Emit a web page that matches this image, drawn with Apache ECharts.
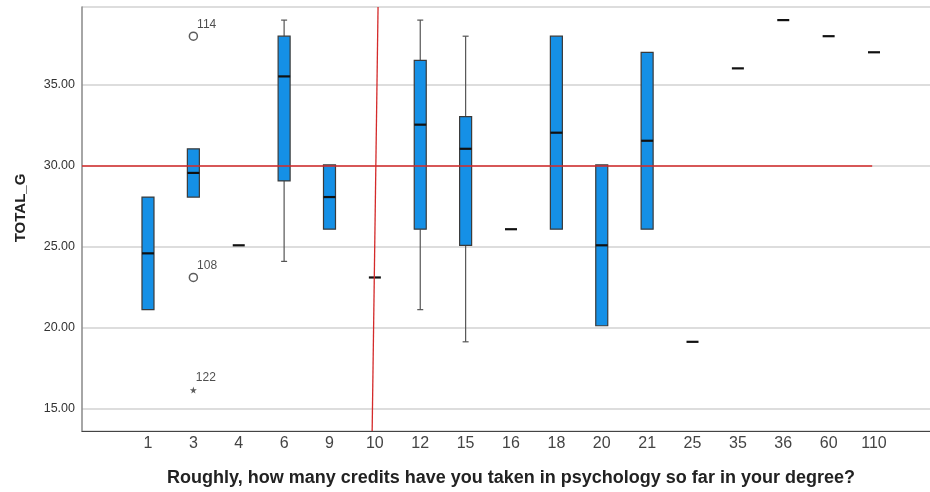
<!DOCTYPE html>
<html><head><meta charset="utf-8">
<script src="https://cdn.jsdelivr.net/npm/echarts@6/dist/echarts.min.js"></script>
<style>html,body{margin:0;padding:0;background:#fff}#c{width:930px;height:492px}</style>
</head><body><div id="c"></div>
<script>
// ---- data ----
const categories = ['1','3','4','6','9','10','12','15','16','18','20','21','25','35','36','60','110'];
const boxMin    = [21, 28,   25, 24,   26, 23, 21,   19, 26, 26, 20, 26,   19, 36, 39, 38, 37];
const boxQ1     = [21, 28,   25, 29,   26, 23, 26,   25, 26, 26, 20, 26,   19, 36, 39, 38, 37];
const boxMedian = [24.5, 29.5, 25, 35.5, 28, 23, 32.5, 31, 26, 32, 25, 31.5, 19, 36, 39, 38, 37];
const boxQ3     = [28, 31,   25, 38,   30, 23, 36.5, 33, 26, 38, 30, 37,   19, 36, 39, 38, 37];
const boxMax    = [28, 31,   25, 39,   30, 23, 39,   38, 26, 38, 30, 37,   19, 36, 39, 38, 37];
const outlierCategory = ['3', '3'];
const outlierValue = [38, 23];
const outlierLabel = ['114', '108'];
const extremeCategory = ['3'];
const extremeValue = [16];
const extremeLabel = ['122'];
const yTickValues = [15, 20, 25, 30, 35];
const refLineValue = 30;      // horizontal reference line (TOTAL_G)
const refLineCategory = '10'; // vertical reference line
const yName = 'TOTAL_G';
const xName = 'Roughly, how many credits have you taken in psychology so far in your degree?';

// ---- layout ----
const Y_MIN = 13.642, Y_MAX = 39.815;
const FONT = '"Liberation Sans", Arial, sans-serif';
const n = categories.length;
const refIdx = categories.indexOf(refLineCategory);
// outer value axis in "category index" units (index i sits at i)
const X0_MIN = -1.4545, X0_MAX = n + 0.234;

const boxData = categories.map((c, i) => [i, boxMin[i], boxQ1[i], boxMedian[i], boxQ3[i], boxMax[i]]);
const outData = outlierCategory.map((c, k) => [categories.indexOf(c), outlierValue[k], outlierLabel[k]]);
const extData = extremeCategory.map((c, k) => [categories.indexOf(c), extremeValue[k], extremeLabel[k]]);

function renderBox(params, api) {
  const i = api.value(0);
  const mn = api.value(1), q1 = api.value(2), md = api.value(3), q3 = api.value(4), mx = api.value(5);
  const bw = 12, cw = 6;
  const pMin = api.coord([i, mn]), pQ1 = api.coord([i, q1]), pMd = api.coord([i, md]),
        pQ3 = api.coord([i, q3]), pMax = api.coord([i, mx]);
  const x = pMd[0];
  const ch = [];
  const wStyle = { stroke: '#555', lineWidth: 1.2 };
  if (mx > q3) {
    ch.push({ type: 'line', shape: { x1: x, y1: pQ3[1], x2: x, y2: pMax[1] }, style: wStyle });
    ch.push({ type: 'line', shape: { x1: x - cw / 2, y1: pMax[1], x2: x + cw / 2, y2: pMax[1] }, style: wStyle });
  }
  if (mn < q1) {
    ch.push({ type: 'line', shape: { x1: x, y1: pQ1[1], x2: x, y2: pMin[1] }, style: wStyle });
    ch.push({ type: 'line', shape: { x1: x - cw / 2, y1: pMin[1], x2: x + cw / 2, y2: pMin[1] }, style: wStyle });
  }
  if (q3 > q1) {
    ch.push({ type: 'rect', shape: { x: x - bw / 2, y: pQ3[1], width: bw, height: pQ1[1] - pQ3[1] },
      style: { fill: '#1590E6', stroke: '#3a3a3a', lineWidth: 1.2 } });
  }
  ch.push({ type: 'line', shape: { x1: x - bw / 2, y1: pMd[1], x2: x + bw / 2, y2: pMd[1] },
    style: { stroke: '#111', lineWidth: 2.2 } });
  return { type: 'group', children: ch };
}

const chart = echarts.init(document.getElementById('c'), null, { renderer: 'canvas' });
chart.setOption({
  animation: false,
  backgroundColor: '#fff',
  textStyle: { fontFamily: FONT },
  grid: [
    { left: 82, right: 0, top: 7, bottom: 61 },
    { left: 125.3, right: 33.3, top: 7, bottom: 61 }
  ],
  xAxis: [
    { gridIndex: 0, type: 'value', min: X0_MIN, max: X0_MAX,
      axisLine: { show: true, onZero: false, lineStyle: { color: '#444', width: 1.2 } },
      axisTick: { show: false }, axisLabel: { show: false }, splitLine: { show: false } },
    { gridIndex: 1, type: 'category', data: categories, boundaryGap: true,
      axisLine: { show: false }, axisTick: { show: false },
      axisLabel: { fontSize: 16, color: '#444', margin: 8, fontFamily: FONT },
      name: xName, nameLocation: 'middle', nameGap: 41,
      nameTextStyle: { fontSize: 18, fontWeight: 'bold', color: '#222', fontFamily: FONT } }
  ],
  yAxis: [
    { gridIndex: 0, type: 'value', min: Y_MIN, max: Y_MAX,
      axisLine: { show: true, onZero: false, lineStyle: { color: '#888', width: 1.5 } },
      axisTick: { show: false },
      axisLabel: { fontSize: 12.5, color: '#333', margin: 7, fontFamily: FONT,
        formatter: v => yTickValues.some(t => Math.abs(t - v) < 1e-6) ? v.toFixed(2) : '' },
      splitLine: { show: true, lineStyle: { color: '#d2d2d2', width: 1.5 } },
      name: yName, nameLocation: 'middle', nameGap: 54,
      nameTextStyle: { fontSize: 15, fontWeight: 'bold', color: '#222', fontFamily: FONT, padding: [0, 0, 0, 22] } },
    { gridIndex: 1, type: 'value', min: Y_MIN, max: Y_MAX, show: false,
      axisLine: { show: false, onZero: false }, axisTick: { show: false },
      axisLabel: { show: false }, splitLine: { show: false } }
  ],
  series: [
    { type: 'custom', xAxisIndex: 1, yAxisIndex: 1, renderItem: renderBox, data: boxData, z: 3,
      encode: { x: 0, y: [1, 2, 3, 4, 5] } },
    { type: 'line', xAxisIndex: 0, yAxisIndex: 0, symbol: 'none', z: 4,
      lineStyle: { color: '#d42a2a', width: 1.3 },
      data: [[X0_MIN, refLineValue], [15.96, refLineValue]] },
    { type: 'line', xAxisIndex: 0, yAxisIndex: 0, symbol: 'none', z: 4,
      lineStyle: { color: '#d42a2a', width: 1.3 },
      data: [[refIdx + 0.07, Y_MAX], [refIdx - 0.06, Y_MIN]] },
    { type: 'scatter', xAxisIndex: 1, yAxisIndex: 1, data: outData, z: 5,
      symbol: 'circle', symbolSize: 8,
      itemStyle: { color: '#fff', borderColor: '#333', borderWidth: 1.5 },
      label: { show: true, formatter: p => p.value[2], position: 'right', offset: [-6, -12],
        fontSize: 12, color: '#222', fontFamily: FONT } },
    { type: 'scatter', xAxisIndex: 1, yAxisIndex: 1, data: extData, z: 5,
      symbol: 'path://M50,0 L61,35 L98,35 L68,57 L79,91 L50,70 L21,91 L32,57 L2,35 L39,35 Z', symbolSize: 7,
      itemStyle: { color: '#333' },
      label: { show: true, formatter: p => p.value[2], position: 'right', offset: [-6, -12],
        fontSize: 12, color: '#222', fontFamily: FONT } }
  ]
});
</script>
</body></html>
